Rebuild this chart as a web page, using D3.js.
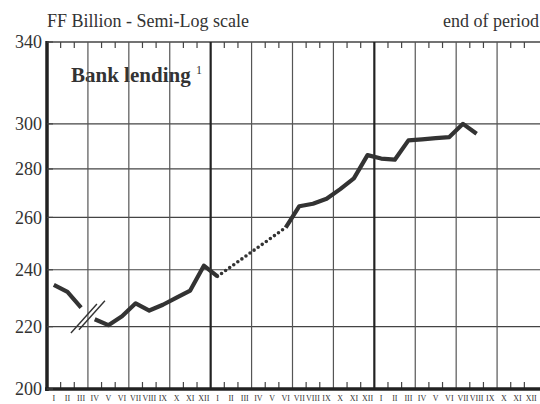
<!DOCTYPE html>
<html>
<head>
<meta charset="utf-8">
<script src="https://cdn.jsdelivr.net/npm/d3@7"></script>
<style>
  body { margin: 0; background: #fff; }
  svg text { font-family: "Liberation Serif", "DejaVu Serif", serif; fill: #333; }
</style>
</head>
<body>
<div id="chart"></div>
<script>
// month labels repeated for each of the three years
var months = ["I", "II", "III", "IV", "V", "VI", "VII", "VIII", "IX", "X", "XI", "XII"];
var years = 3;

// y axis ticks (FF billion)
var yTicks = [200, 220, 240, 260, 280, 300, 340];

// bank lending, end of month, FF billion (null = not available)
var lending = [
	234.5, 232, 226.5, 222.5, 220.5, 223.5, 228, 225.5, 227.5, 230, 232.5, 241.5,
	237.6, null, null, null, null, 256, 264.5, 265.5, 267.5, 271.5, 276, 286,
	284.5, 284, 292.5, 293, 293.5, 294, 300, 295.5
];
// series break (//) between these two months
var breakAfter = 2;

var width = 540, height = 404;

var svg = d3.select("#chart")
	.append("svg")
	.attr("width", width)
	.attr("height", height);

var x = d3.scaleLinear().domain([0, months.length * years]).range([47, 538]);
var y = d3.scaleLog().domain([200, 340]).range([389, 42]);

var ink = "#333";
var serif = "Liberation Serif, DejaVu Serif, serif";

// titles
svg.append("text")
	.attr("x", 47).attr("y", 27)
	.attr("font-family", serif)
	.style("font-size", "18px")
	.text("FF Billion - Semi-Log scale");

svg.append("text")
	.attr("x", 539).attr("y", 27)
	.attr("text-anchor", "end")
	.attr("font-family", serif)
	.style("font-size", "18px")
	.text("end of period");

var title = svg.append("text")
	.attr("x", 71).attr("y", 82)
	.attr("font-family", serif)
	.style("font-size", "21px")
	.style("font-weight", "bold");
title.append("tspan").text("Bank lending ");
title.append("tspan")
	.attr("dy", -8)
	.style("font-size", "12px")
	.style("font-weight", "normal")
	.text("1");

// horizontal grid
svg.selectAll(".hgrid")
	.data(yTicks.filter(function(d) { return d > 200; }))
	.enter()
	.append("line")
	.attr("class", "hgrid")
	.attr("x1", x(0)).attr("x2", width)
	.attr("y1", function(d) { return y(d); })
	.attr("y2", function(d) { return y(d); })
	.attr("stroke", "#444")
	.attr("stroke-width", function(d) { return d === 340 ? 1.6 : 1.2; });

// vertical grid: quarters thin, years thick
var quarters = d3.range(1, years * 4);
svg.selectAll(".vgrid")
	.data(quarters)
	.enter()
	.append("line")
	.attr("class", "vgrid")
	.attr("x1", function(d) { return x(d * 3); })
	.attr("x2", function(d) { return x(d * 3); })
	.attr("y1", y(340)).attr("y2", y(200))
	.attr("stroke", function(d) { return d % 4 === 0 ? "#222" : "#555"; })
	.attr("stroke-width", function(d) { return d % 4 === 0 ? 2.2 : 1.2; });

// month ticks at top and bottom
var monthEdges = d3.range(1, years * 12).filter(function(d) { return d % 3 !== 0; });
svg.selectAll(".tickb")
	.data(monthEdges)
	.enter()
	.append("line")
	.attr("x1", function(d) { return x(d); })
	.attr("x2", function(d) { return x(d); })
	.attr("y1", y(200)).attr("y2", y(200) - 7)
	.attr("stroke", "#444").attr("stroke-width", 1.2);
svg.selectAll(".tickt")
	.data(monthEdges)
	.enter()
	.append("line")
	.attr("x1", function(d) { return x(d); })
	.attr("x2", function(d) { return x(d); })
	.attr("y1", y(340)).attr("y2", y(340) + 6)
	.attr("stroke", "#444").attr("stroke-width", 1.2);

// axes
svg.append("line")
	.attr("x1", x(0)).attr("x2", x(0))
	.attr("y1", y(340) - 1).attr("y2", y(200) + 2)
	.attr("stroke", "#222").attr("stroke-width", 3.5);
svg.append("line")
	.attr("x1", x(0) - 2).attr("x2", width)
	.attr("y1", y(200)).attr("y2", y(200))
	.attr("stroke", "#222").attr("stroke-width", 3.5);

// left ticks and labels
svg.selectAll(".ytick")
	.data(yTicks)
	.enter()
	.append("line")
	.attr("x1", x(0)).attr("x2", x(0) + 6)
	.attr("y1", function(d) { return y(d); })
	.attr("y2", function(d) { return y(d); })
	.attr("stroke", "#444").attr("stroke-width", 1.2);
svg.selectAll(".ylab")
	.data(yTicks)
	.enter()
	.append("text")
	.attr("x", 42)
	.attr("y", function(d) { return y(d); })
	.attr("dy", "0.35em")
	.attr("text-anchor", "end")
	.attr("font-family", serif)
	.style("font-size", "18px")
	.text(function(d) { return d; });

// month labels
var allMonths = [];
for (var k = 0; k < years; k++) {
	months.forEach(function(m, i) { allMonths.push({ i: k * 12 + i, label: m }); });
}
svg.selectAll(".mlab")
	.data(allMonths)
	.enter()
	.append("text")
	.attr("x", function(d) { return x(d.i + 0.5); })
	.attr("y", 401)
	.attr("text-anchor", "middle")
	.attr("font-family", serif)
	.style("font-size", "8px")
	.text(function(d) { return d.label; });

// series
var points = lending.map(function(v, i) { return { i: i, v: v }; });

var line = d3.line()
	.defined(function(d) { return d.v !== null; })
	.x(function(d) { return x(d.i + 0.5); })
	.y(function(d) { return y(d.v); });

var pieces = [points.slice(0, breakAfter + 1), points.slice(breakAfter + 1)];
pieces.forEach(function(p) {
	svg.append("path")
		.attr("d", line(p))
		.attr("fill", "none")
		.attr("stroke", ink)
		.attr("stroke-width", 4.2)
		.attr("stroke-linejoin", "round");
});

// dotted line across the missing months
var known = points.filter(function(d) { return d.v !== null; });
for (var j = 1; j < known.length; j++) {
	if (known[j].i - known[j - 1].i > 1) {
		svg.append("path")
			.attr("d", line([known[j - 1], known[j]]))
			.attr("fill", "none")
			.attr("stroke", ink)
			.attr("stroke-width", 3.6)
			.attr("stroke-linecap", "round")
			.attr("stroke-dasharray", "0,5");
	}
}

// break marks between III and IV
var bx = x(breakAfter + 1), by = y(223.5);
[-4, 4].forEach(function(off) {
	svg.append("line")
		.attr("x1", bx + off - 13).attr("y1", by + 15 - off * 0.4)
		.attr("x2", bx + off + 13).attr("y2", by - 14 - off * 0.4)
		.attr("stroke", ink)
		.attr("stroke-width", 1.4);
});
</script>
</body>
</html>
